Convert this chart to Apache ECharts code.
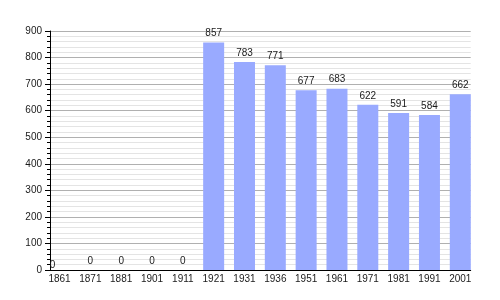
<!DOCTYPE html>
<html>
<head>
<meta charset="utf-8">
<script src="https://cdn.jsdelivr.net/npm/echarts@6/dist/echarts.min.js"></script>
<style>html,body{margin:0;padding:0;background:#fff}#c{width:500px;height:300px}</style>
</head>
<body>
<div id="c"></div>
<script>
var years = ['1861','1871','1881','1901','1911','1921','1931','1936','1951','1961','1971','1981','1991','2001'];
var population = [0,0,0,0,0,857,783,771,677,683,622,591,584,662];
var yMin = 0, yMax = 900, yStep = 100;

var chart = echarts.init(document.getElementById('c'), null, {renderer:'canvas'});
var font = 'Liberation Sans, Arial, sans-serif';
var barData = population.map(function(v,i){
  return i === 0 ? {value:v, label:{offset:[-7,4]}} : v;
});
chart.setOption({
  animation:false,
  backgroundColor:'#ffffff',
  grid:[
    {left:50, right:29.3, top:31, bottom:30},
    {left:44.1, right:24.3, top:31, bottom:30}
  ],
  xAxis:[
    {gridIndex:0, type:'value', min:0, max:1,
     axisLine:{show:true, lineStyle:{color:'#000', width:1}},
     axisTick:{show:false}, axisLabel:{show:false}, splitLine:{show:false}},
    {gridIndex:1, type:'category', data:years,
     axisLine:{show:false}, axisTick:{show:false},
     axisLabel:{show:true, interval:0, color:'#1a1a1a', fontFamily:font, fontSize:10, margin:4},
     splitLine:{show:false}}
  ],
  yAxis:[
    {gridIndex:0, type:'value', min:yMin, max:yMax, interval:yStep,
     axisLine:{show:true, lineStyle:{color:'#000', width:1}},
     axisTick:{show:true, length:5, lineStyle:{color:'#000'}},
     minorTick:{show:true, splitNumber:5, length:3, lineStyle:{color:'#000'}},
     axisLabel:{color:'#1a1a1a', fontFamily:font, fontSize:10, margin:8},
     splitLine:{show:true, lineStyle:{color:'#b0b0b0', width:1}},
     minorSplitLine:{show:true, lineStyle:{color:'#e4e4e4', width:1}}},
    {gridIndex:1, type:'value', min:yMin, max:yMax, interval:yStep, show:false}
  ],
  series:[{
    type:'bar', xAxisIndex:1, yAxisIndex:1, data:barData, barWidth:21,
    itemStyle:{color:'#99aaff'},
    label:{show:true, position:'top', distance:4, color:'#1a1a1a', fontFamily:font, fontSize:10}
  }]
});
</script>
</body>
</html>
